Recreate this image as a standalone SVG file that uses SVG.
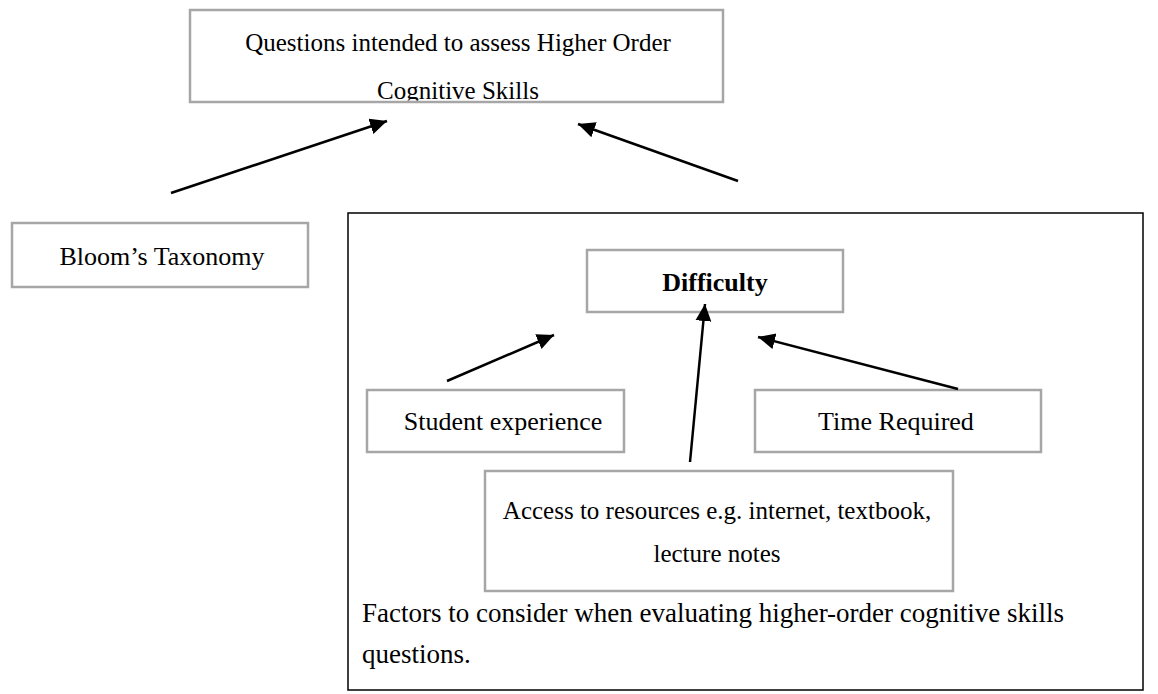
<svg xmlns="http://www.w3.org/2000/svg" width="1158" height="694" viewBox="0 0 1158 694">
<style>
.box{fill:#fff;stroke:#a6a6a6;stroke-width:2.5}
.t{font-family:"Liberation Serif","Times New Roman",serif;font-size:26px;fill:#000;text-anchor:middle}
.s{font-size:25px}
.cap{font-family:"Liberation Serif","Times New Roman",serif;font-size:27px;fill:#000}
.arr{stroke:#000;stroke-width:2.5;fill:none;marker-end:url(#ah)}
</style>
<defs>
<marker id="ah" markerUnits="userSpaceOnUse" markerWidth="20" markerHeight="18" refX="17" refY="8" orient="auto">
<path d="M0,0 L17,8 L0,16 Z" fill="#000"/>
</marker>
<clipPath id="topclip"><rect x="191" y="11" width="531" height="89.5"/></clipPath>
</defs>
<rect width="1158" height="694" fill="#fff"/>
<g id="outer-box">
<rect x="348" y="213" width="795" height="477" fill="none" stroke="#000" stroke-width="1.5"/>
<text class="cap" x="362" y="622">Factors to consider when evaluating higher-order cognitive skills</text>
<text class="cap" x="362" y="663">questions.</text>
</g>
<g id="hocs">
<rect class="box" x="190" y="10" width="533" height="92"/>
<g clip-path="url(#topclip)">
<text class="t s" x="458" y="51">Questions intended to assess Higher Order</text>
<text class="t s" x="458" y="99">Cognitive Skills</text>
</g>
</g>
<g id="bloom">
<rect class="box" x="12" y="223" width="296" height="64"/>
<text class="t" x="162" y="265">Bloom’s Taxonomy</text>
</g>
<g id="difficulty">
<rect class="box" x="587" y="250" width="256" height="62"/>
<text class="t" x="715" y="291" font-weight="bold">Difficulty</text>
</g>
<g id="student">
<rect class="box" x="367" y="390" width="257" height="62"/>
<text class="t" x="503" y="430">Student experience</text>
</g>
<g id="time">
<rect class="box" x="755" y="390" width="286" height="62"/>
<text class="t" x="896" y="430">Time Required</text>
</g>
<g id="access">
<rect class="box" x="485" y="471" width="468" height="120"/>
<text class="t s" x="717" y="519">Access to resources e.g. internet, textbook,</text>
<text class="t s" x="717" y="562">lecture notes</text>
</g>
<g id="connectors">
<line class="arr" x1="171" y1="193" x2="387" y2="121"/>
<line class="arr" x1="738" y1="181" x2="578" y2="124"/>
<line class="arr" x1="447" y1="381" x2="554" y2="335"/>
<line class="arr" x1="690" y1="462" x2="705" y2="304"/>
<line class="arr" x1="958" y1="389" x2="758" y2="337"/>
</g>
</svg>
